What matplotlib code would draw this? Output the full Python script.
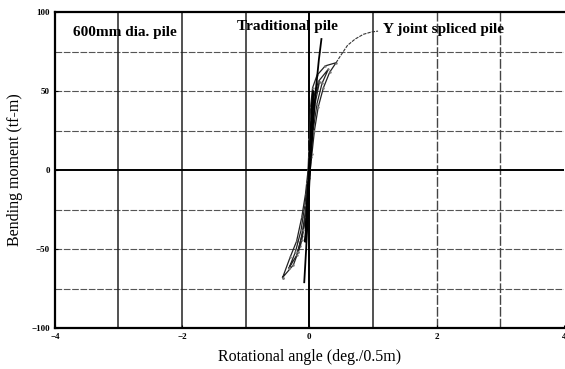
import matplotlib.pyplot as plt

# ---- data ----
# Y joint spliced pile: hysteresis loops, rotation (deg/0.5m) vs moment (tf-m)
yj_loop3_x = [-0.42, -0.30, -0.20, -0.12, -0.06, -0.02, 0.00, 0.02, 0.05, 0.12, 0.25, 0.42,
              0.32, 0.22, 0.14, 0.08, 0.04, 0.00, -0.04, -0.08, -0.14, -0.25, -0.42]
yj_loop3_y = [-68, -55, -45, -30, -15, 0, 20, 40, 52, 60, 66, 68,
              62, 52, 40, 25, 10, -5, -20, -35, -48, -60, -68]
yj_loop2_x = [-0.32, -0.22, -0.13, -0.07, -0.03, 0.00, 0.02, 0.06, 0.14, 0.30,
              0.20, 0.12, 0.06, 0.02, -0.02, -0.06, -0.12, -0.20, -0.32]
yj_loop2_y = [-62, -52, -38, -22, -8, 8, 28, 45, 56, 64,
              55, 42, 25, 8, -10, -28, -42, -54, -62]
yj_loop1_x = [-0.18, -0.10, -0.05, -0.02, 0.00, 0.03, 0.08, 0.16,
              0.09, 0.04, 0.01, -0.02, -0.06, -0.12, -0.18]
yj_loop1_y = [-52, -38, -22, -6, 12, 32, 46, 56,
              42, 25, 6, -12, -30, -44, -52]
yj_final_x = [0.42, 0.50, 0.60, 0.72, 0.85, 0.98, 1.08]
yj_final_y = [68, 73, 79, 83, 86, 87.5, 88]

# Traditional pile
trad_x = [-0.08, -0.05, -0.02, 0.01, 0.05, 0.10, 0.15, 0.19]
trad_y = [-71, -50, -25, 0, 25, 50, 70, 83]
trad_loop_x = [-0.06, -0.03, 0.00, 0.03, 0.06, 0.03, 0.00, -0.03, -0.06]
trad_loop_y = [-45, -22, 0, 25, 50, 22, -2, -25, -45]

x_ticks = [-4, -2, 0, 2, 4]
y_ticks = [-100, -50, 0, 50, 100]

plt.rcParams["font.family"] = ["Liberation Serif", "DejaVu Serif"]

fig = plt.figure(figsize=(5.65, 3.69), dpi=100)
ax = fig.add_axes([0.097, 0.111, 0.901, 0.856])
ax.set_xlim(-4, 4)
ax.set_ylim(-100, 100)

# grid: horizontal dashed, vertical solid / dashed
for yv in [-75, -50, -25, 25, 50, 75]:
    ax.axhline(yv, color="#555555", lw=0.8, dashes=(6, 1.5), zorder=1)
for xv in [-3, -2, -1, 1]:
    ax.axvline(xv, color="#222222", lw=1.1, zorder=1)
for xv in [2, 3]:
    ax.axvline(xv, color="#444444", lw=1.0, dashes=(7, 1.5), zorder=1)
ax.axhline(0, color="black", lw=1.4, zorder=2)
ax.axvline(0, color="black", lw=1.4, zorder=2)

# curves
ax.plot(trad_x, trad_y, color="black", lw=1.3, zorder=4)
ax.plot(trad_loop_x, trad_loop_y, color="black", lw=1.6, zorder=4)
for lx, ly in [(yj_loop3_x, yj_loop3_y), (yj_loop2_x, yj_loop2_y), (yj_loop1_x, yj_loop1_y)]:
    ax.plot(lx, ly, color="#222222", lw=0.9, zorder=3)
    ax.plot(lx, ly, color="#777777", lw=0, marker=".", ms=1.5, zorder=3)
ax.plot(yj_final_x, yj_final_y, color="#333333", lw=0.8, dashes=(3, 1), zorder=3)

# annotations
ax.text(-3.72, 87, "600mm dia. pile", fontsize=11, fontweight="bold", va="center")
ax.text(-1.14, 91, "Traditional pile", fontsize=11, fontweight="bold", va="center")
ax.text(1.15, 89, "Y joint spliced pile", fontsize=11, fontweight="bold", va="center")

ax.set_xticks(x_ticks)
ax.set_yticks(y_ticks)
ax.tick_params(labelsize=6.5, length=2, direction="in")
for lbl in ax.get_xticklabels() + ax.get_yticklabels():
    lbl.set_fontweight("bold")

for s in ["left", "bottom", "top"]:
    ax.spines[s].set_linewidth(1.6)
ax.spines["right"].set_visible(False)

ax.set_xlabel("Rotational angle (deg./0.5m)", fontsize=11.5, labelpad=6)
ax.set_ylabel("Bending moment (tf-m)", fontsize=11.5, labelpad=6)

fig.savefig("out.png", dpi=100)
